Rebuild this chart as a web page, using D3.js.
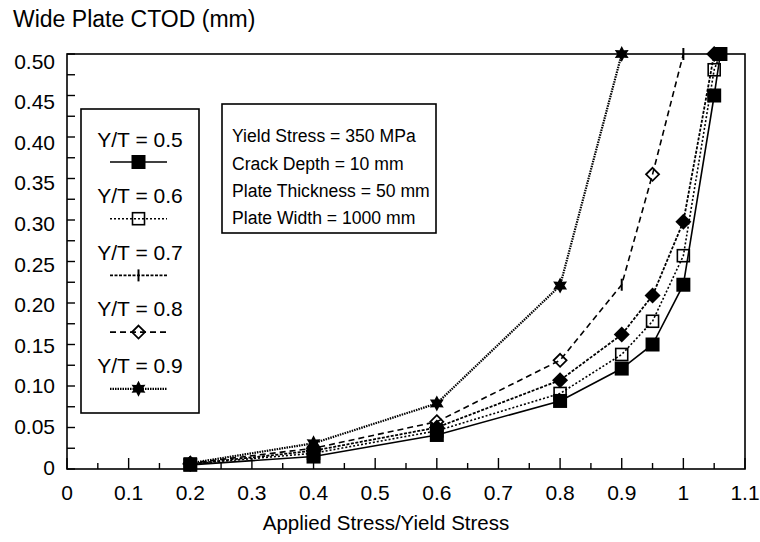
<!DOCTYPE html>
<html><head><meta charset="utf-8">
<script src="https://cdn.jsdelivr.net/npm/d3@7"></script>
<style>
body{margin:0;background:#fff}
text{font-family:"Liberation Sans",Arial,Helvetica,sans-serif;fill:#000}
</style>
</head><body>
<svg id="chart" width="760" height="542"></svg>
<script>
// ---- data ----
const seriesNames = ["Y/T = 0.5","Y/T = 0.6","Y/T = 0.7","Y/T = 0.8","Y/T = 0.9"];
const x05 = [0.2,0.4,0.6,0.8,0.9,0.95,1.0,1.05,1.06];
const y05 = [0.005,0.015,0.041,0.082,0.121,0.150,0.222,0.450,0.500];
const x06 = [0.2,0.4,0.6,0.8,0.9,0.95,1.0,1.05,1.06];
const y06 = [0.006,0.019,0.046,0.091,0.138,0.178,0.257,0.481,0.500];
const x07 = [0.2,0.4,0.6,0.8,0.9,0.95,1.0,1.05];
const y07 = [0.006,0.022,0.050,0.107,0.162,0.209,0.298,0.500];
const x08 = [0.2,0.4,0.6,0.8,0.9,0.95,1.0];
const y08 = [0.007,0.025,0.057,0.131,0.222,0.355,0.500];
const m08 = ["diamondOpen","diamondOpen","diamondOpen","diamondOpen","bar","diamondOpen","bar"];
const x09 = [0.2,0.4,0.6,0.8,0.9];
const y09 = [0.007,0.031,0.079,0.221,0.500];
const xTicks = [0,0.1,0.2,0.3,0.4,0.5,0.6,0.7,0.8,0.9,1,1.1];
const xTickLabels = ["0","0.1","0.2","0.3","0.4","0.5","0.6","0.7","0.8","0.9","1","1.1"];
const yTicks = [0,0.05,0.10,0.15,0.20,0.25,0.30,0.35,0.40,0.45,0.50];
const yTickLabels = ["0","0.05","0.10","0.15","0.20","0.25","0.30","0.35","0.40","0.45","0.50"];
const infoLines = ["Yield Stress = 350 MPa","Crack Depth = 10 mm","Plate Thickness = 50 mm","Plate Width = 1000 mm"];
const xTitle = "Applied Stress/Yield Stress";
const yTitle = "Wide Plate CTOD (mm)";

// ---- styles ----
const styles = [
  {dash:null, width:1.6, marker:"squareFilled", legendMarker:"squareFilled"},
  {dash:"2,2", width:1.6, marker:"squareOpen", legendMarker:"squareOpen"},
  {dash:"3,1.5", width:1.8, marker:"diamondFilled", legendMarker:"bar"},
  {dash:"6,4", width:1.6, marker:"diamondOpen", legendMarker:"diamondOpen"},
  {dash:"1.5,1", width:2.2, marker:"star", legendMarker:"star"}
];
const seriesData = [
  x05.map((x,i)=>({x, y:y05[i]})),
  x06.map((x,i)=>({x, y:y06[i]})),
  x07.map((x,i)=>({x, y:y07[i]})),
  x08.map((x,i)=>({x, y:y08[i], m:m08[i]})),
  x09.map((x,i)=>({x, y:y09[i]}))
];

const svg = d3.select("#chart");
const L=67, R=745, T=54, B=469;
const x = d3.scaleLinear().domain([0,1.1]).range([L,R]);
const y = d3.scaleLinear().domain([0,0.5]).range([B,T]);
// tick labels of the original are spaced slightly tighter than the ticks
const yLab = d3.scaleLinear().domain([0,0.5]).range([467,61]);

// frame
svg.append("rect").attr("x",L).attr("y",T).attr("width",R-L).attr("height",B-T)
  .attr("fill","none").attr("stroke","#000").attr("stroke-width",1.6);

// y ticks (inward)
const yMinor = d3.range(0,0.5001,0.025);
svg.append("g").selectAll("line").data(yMinor).join("line")
  .attr("x1",L).attr("x2",L+8).attr("y1",d=>y(d)).attr("y2",d=>y(d))
  .attr("stroke","#000").attr("stroke-width",1.4);
svg.append("g").selectAll("text").data(yTicks).join("text")
  .attr("x",L-12).attr("y",d=>yLab(d)).attr("dy","0.36em")
  .attr("text-anchor","end").attr("font-size",21).text((d,i)=>yTickLabels[i]);

// x ticks
const xMinor = d3.range(0,1.1001,0.05);
svg.append("g").selectAll("line").data(xMinor).join("line")
  .attr("x1",d=>x(d)).attr("x2",d=>x(d)).attr("y1",B)
  .attr("y2",(d,i)=> i%2===0 ? B-11 : B-6)
  .attr("stroke","#000").attr("stroke-width",1.4);
svg.append("g").selectAll("text").data(xTicks).join("text")
  .attr("x",d=>x(d)).attr("y",B+31)
  .attr("text-anchor","middle").attr("font-size",21).text((d,i)=>xTickLabels[i]);

svg.append("text").attr("x",386).attr("y",B+61).attr("text-anchor","middle")
  .attr("font-size",20.5).text(xTitle);
svg.append("text").attr("x",13).attr("y",27).attr("font-size",23).text(yTitle);

// markers
function star6(r){
  const pts=[];
  for(let k=0;k<12;k++){
    const a = -Math.PI/2 + k*Math.PI/6;
    const rr = k%2===0 ? r : r*0.55;
    pts.push([rr*Math.cos(a), rr*Math.sin(a)]);
  }
  return "M"+pts.map(p=>p.join(",")).join("L")+"Z";
}
function drawMarker(g, type, cx, cy){
  if(type==="squareFilled"){
    g.append("rect").attr("x",cx-7).attr("y",cy-7).attr("width",14).attr("height",14).attr("fill","#000");
  } else if(type==="squareOpen"){
    g.append("rect").attr("x",cx-6).attr("y",cy-6).attr("width",12).attr("height",12)
      .attr("fill","none").attr("stroke","#000").attr("stroke-width",1.6);
  } else if(type==="diamondFilled"){
    g.append("path").attr("d",`M${cx},${cy-8}L${cx+8},${cy}L${cx},${cy+8}L${cx-8},${cy}Z`).attr("fill","#000");
  } else if(type==="diamondOpen"){
    g.append("path").attr("d",`M${cx},${cy-6.5}L${cx+6.5},${cy}L${cx},${cy+6.5}L${cx-6.5},${cy}Z`)
      .attr("fill","none").attr("stroke","#000").attr("stroke-width",1.8);
  } else if(type==="bar"){
    g.append("line").attr("x1",cx).attr("x2",cx).attr("y1",cy-6).attr("y2",cy+6)
      .attr("stroke","#000").attr("stroke-width",2);
  } else if(type==="star"){
    g.append("path").attr("d",star6(8)).attr("transform",`translate(${cx},${cy})`).attr("fill","#000");
  }
}

const line = d3.line().x(d=>x(d.x)).y(d=>y(d.y));
seriesData.forEach((data,si)=>{
  const st = styles[si];
  const g = svg.append("g");
  g.append("path").datum(data).attr("d",line).attr("fill","none").attr("stroke","#000")
    .attr("stroke-width",st.width).attr("stroke-dasharray",st.dash);
  data.forEach(d=>drawMarker(g, d.m || st.marker, x(d.x), y(d.y)));
});

// legend
const lg = svg.append("g");
lg.append("rect").attr("x",81).attr("y",109).attr("width",118).attr("height",304)
  .attr("fill","#fff").attr("stroke","#000").attr("stroke-width",1.6);
seriesNames.forEach((name,i)=>{
  const ty = 139 + i*56.5;
  const ly = 162 + i*56.7;
  lg.append("text").attr("x",140).attr("y",ty).attr("dy","0.36em").attr("text-anchor","middle")
    .attr("font-size",21).text(name);
  lg.append("line").attr("x1",110).attr("x2",167).attr("y1",ly).attr("y2",ly)
    .attr("stroke","#000").attr("stroke-width",styles[i].width).attr("stroke-dasharray",styles[i].dash);
  drawMarker(lg, styles[i].legendMarker, 138.5, ly);
});

// info box
const ib = svg.append("g");
ib.append("rect").attr("x",222).attr("y",104).attr("width",214).attr("height",129)
  .attr("fill","#fff").attr("stroke","#000").attr("stroke-width",1.6);
infoLines.forEach((t,i)=>{
  ib.append("text").attr("x",232).attr("y",136+i*27.3).attr("dy","0.36em").attr("font-size",17.6).text(t);
});
</script>
</body></html>
